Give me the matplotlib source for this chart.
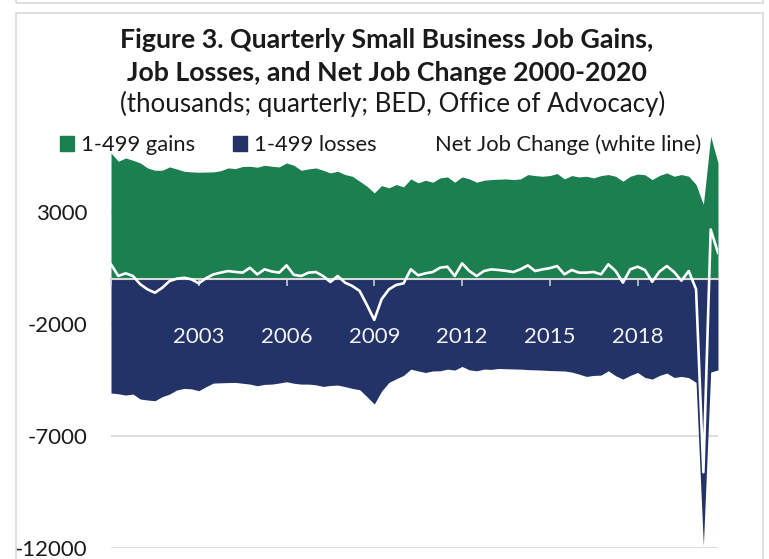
import matplotlib
matplotlib.use("Agg")
import matplotlib.pyplot as plt
from matplotlib.patches import Patch, Rectangle
from matplotlib.lines import Line2D
import numpy as np

plt.rcParams["font.family"] = ["Lato", "DejaVu Sans"]

# Trimestres 2000Q1 .. 2020Q4 (miles de empleos, pequeñas empresas 1-499)
anios = list(range(2000, 2021))
trimestres = [f"{a}Q{q}" for a in anios for q in range(1, 5)]

ganancias = [
    5655, 5283, 5431, 5327, 5208, 4985, 4881, 4881, 5030, 4940,
    4836, 4807, 4792, 4800, 4807, 4860, 4985, 4955, 5050, 5060,
    5015, 5104, 5060, 5030, 5208, 5104, 4881, 4940, 4985, 4881,
    4762, 4836, 4688, 4613, 4390, 4167, 3869, 4196, 4092, 4241,
    4137, 4494, 4315, 4435, 4345, 4539, 4583, 4345, 4583, 4494,
    4345, 4435, 4464, 4480, 4494, 4464, 4494, 4688, 4643, 4613,
    4643, 4732, 4494, 4643, 4583, 4613, 4539, 4643, 4688, 4613,
    4390, 4613, 4710, 4680, 4464, 4650, 4762, 4613, 4688, 4613,
    4241, 3348, 6399, 5208,
]

perdidas = [
    -5089, -5120, -5179, -5134, -5357, -5400, -5432, -5250, -5134, -4950,
    -4881, -4900, -4985, -4800, -4643, -4630, -4620, -4613, -4650, -4688,
    -4762, -4700, -4688, -4640, -4583, -4650, -4688, -4688, -4720, -4792,
    -4750, -4732, -4800, -4881, -4940, -5250, -5580, -5000, -4613, -4450,
    -4300, -4018, -4100, -4167, -4100, -4092, -4018, -4060, -3899, -4050,
    -4092, -4018, -4030, -3988, -4000, -4010, -4018, -4040, -4050, -4063,
    -4080, -4092, -4100, -4150, -4241, -4345, -4300, -4286, -4092, -4315,
    -4464, -4300, -4167, -4390, -4464, -4300, -4196, -4390, -4345, -4400,
    -4613, -11905, -4150, -4050,
]

neto = [
    670, 150, 270, 150, -220, -450, -600, -380, -80, 30,
    70, 0, -180, 50, 220, 300, 370, 330, 300, 520,
    220, 450, 350, 300, 625, 200, 149, 298, 327, 149,
    -119, 149, -149, -300, -520, -1150, -1815, -890, -450, -250,
    -180, 450, 179, 268, 327, 521, 565, 149, 714, 372,
    149, 372, 446, 417, 380, 327, 450, 625, 372, 446,
    500, 595, 223, 417, 298, 300, 327, 223, 670, 372,
    -149, 446, 565, 420, -110, 350, 595, 327, -60, 372,
    -446, -8631, 2232, 1190,
]

etiquetas_anio = ["", "2003", "2006", "2009", "2012", "2015", "2018"]
ticks_y = [-12000, -7000, -2000, 3000]

VERDE = "#1c7f4f"
AZUL = "#233367"
GRIS = "#d9d9d9"

W, H = 769, 559
fig = plt.figure(figsize=(W / 100, H / 100), dpi=100)

# marcos de fondo (el de arriba solo asoma)
fig.patches.append(Rectangle((16 / W, 1 - 3 / H), 747 / W, 0.2, transform=fig.transFigure,
                             fill=False, edgecolor=GRIS, lw=1.2))
fig.patches.append(Rectangle((16 / W, -0.1), 747 / W, 1.1 - 13 / H, transform=fig.transFigure,
                             fill=False, edgecolor=GRIS, lw=1.2))

ax = fig.add_axes([111 / W, 11.5 / H, 607 / W, 424.6 / H])
x = np.arange(len(trimestres))

ax.fill_between(x, 0, ganancias, color=VERDE, lw=0, zorder=1)
ax.fill_between(x, 0, perdidas, color=AZUL, lw=0, zorder=1)
ax.plot(x, neto, color="white", lw=1.9, zorder=4)

ax.set_xlim(0, len(trimestres) - 1)
ax.set_ylim(-12000, 7000)
ax.set_yticks(ticks_y)
ax.set_yticklabels([str(v) for v in ticks_y])
ax.yaxis.grid(True, color=GRIS, lw=1.2)
ax.set_axisbelow(True)
ax.xaxis.set_zorder(3)  # marcas y años por encima del área azul

ax.set_xticks(x[::12][:len(etiquetas_anio)])
ax.set_xticklabels(etiquetas_anio)

for lado in ["left", "right", "top"]:
    ax.spines[lado].set_visible(False)
ax.spines["bottom"].set_position(("data", 0))
ax.spines["bottom"].set_color(GRIS)
ax.spines["bottom"].set_linewidth(1.5)
ax.spines["bottom"].set_zorder(3)

ax.tick_params(axis="x", direction="out", length=5, width=1.1, color=GRIS,
               labelcolor="#f2f2f2", labelsize=16, pad=29)
ax.tick_params(axis="y", length=0, labelsize=16, pad=17, labelcolor="#1a1a1a")

# titulo
fig.text(387 / W, 1 - 40 / H, "Figure 3. Quarterly Small Business Job Gains,",
         ha="center", va="center", fontsize=19.3, fontweight="bold", color="#1a1a1a")
fig.text(387 / W, 1 - 73 / H, "Job Losses, and Net Job Change 2000-2020",
         ha="center", va="center", fontsize=19.3, fontweight="bold", color="#1a1a1a")
fig.text(393 / W, 1 - 104 / H, "(thousands; quarterly; BED, Office of Advocacy)",
         ha="center", va="center", fontsize=18.6, color="#1a1a1a")

# leyenda
manijas = [Patch(color=VERDE), Patch(color=AZUL), Line2D([], [], color="white", lw=2)]
fig.legend(manijas, ["1-499 gains", "1-499 losses", "Net Job Change (white line)"],
           loc="center left", bbox_to_anchor=(60 / W, 1 - 145 / H), ncol=3, frameon=False,
           fontsize=15.8, handlelength=0.65, handleheight=0.65, handletextpad=0.3,
           columnspacing=1.72, borderpad=0, borderaxespad=0, labelcolor="#1a1a1a")

fig.savefig("out.png", dpi=100)
